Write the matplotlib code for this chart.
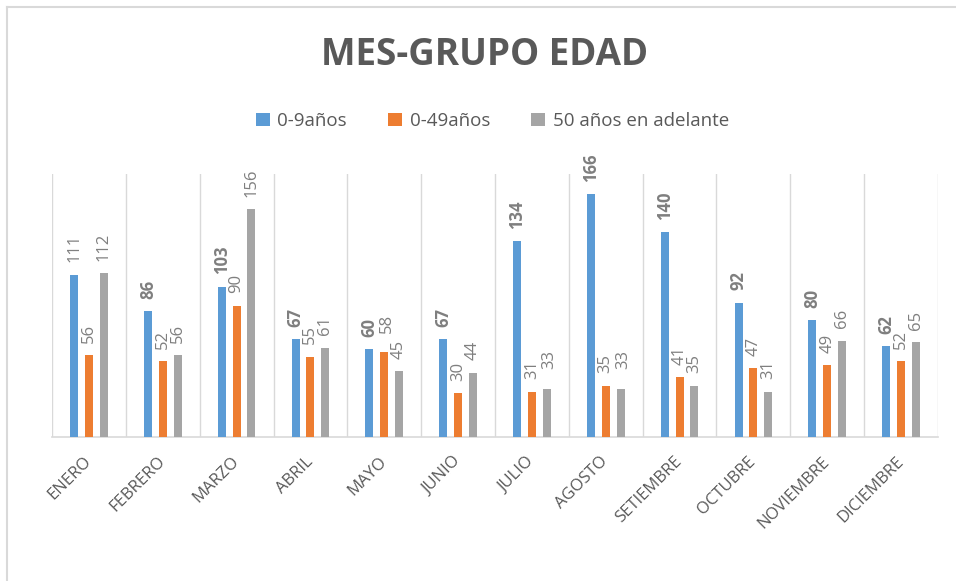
import numpy as np
import matplotlib.pyplot as plt
from matplotlib.lines import Line2D

plt.rcParams['font.family'] = ['Open Sans', 'DejaVu Sans']

meses = ['ENERO', 'FEBRERO', 'MARZO', 'ABRIL', 'MAYO', 'JUNIO', 'JULIO',
         'AGOSTO', 'SETIEMBRE', 'OCTUBRE', 'NOVIEMBRE', 'DICIEMBRE']
ninos = [111, 86, 103, 67, 60, 67, 134, 166, 140, 92, 80, 62]        # 0-9años
adultos = [56, 52, 90, 55, 58, 30, 31, 35, 41, 47, 49, 52]           # 0-49años
mayores = [112, 56, 156, 61, 45, 44, 33, 33, 35, 31, 66, 65]         # 50 años en adelante

series = [
    ('0-9años', ninos, '#5b9bd5', 'bold'),
    ('0-49años', adultos, '#ed7d31', 'normal'),
    ('50 años en adelante', mayores, '#a5a5a5', 'normal'),
]

fig = plt.figure(figsize=(9.56, 5.81), dpi=100)
ax = fig.add_axes([52 / 956, 144 / 581, 886 / 956, 263 / 581])

x = np.arange(len(meses))
ancho = 0.108
paso = 0.2

prev = None
for k, (nombre, vals, color, peso) in enumerate(series):
    pos = x + (k - 1) * paso
    ax.bar(pos, vals, width=ancho, color=color, label=nombre, zorder=3)
    for i, (xi, v) in enumerate(zip(pos, vals)):
        # in the original the first blue label (enero) is not bold
        w = 'normal' if (k == 0 and i == 0) else peso
        dx, dy = 0, 9
        # nudge a label when its neighbour has nearly the same height
        if prev is not None and abs(prev[i] - v) <= 3:
            dx, dy = 2, 14
        ax.annotate(str(v), (xi, v), xytext=(dx, dy), textcoords='offset points',
                    rotation=90, ha='center', va='bottom', fontsize=12,
                    color='#7f7f7f', fontweight=w)
    prev = vals

# vertical separators between months
for b in np.arange(-0.5, len(meses), 1.0):
    ax.axvline(b, color='#d9d9d9', lw=1, zorder=1)

ax.set_xlim(-0.5, len(meses) - 0.5)
ax.set_ylim(0, 180)
ax.set_yticks([])
for s in ['top', 'right', 'left']:
    ax.spines[s].set_visible(False)
ax.spines['bottom'].set_color('#d9d9d9')
ax.spines['bottom'].set_linewidth(1.2)

ax.set_xticks(x)
ax.set_xticklabels(meses, rotation=45, ha='right', va='center',
                   rotation_mode='anchor', fontsize=12, color='#595959')
ax.tick_params(axis='x', length=0, pad=16)

fig.text(0.507, 0.905, 'MES-GRUPO EDAD', ha='center', va='center',
         fontsize=26.5, fontweight='bold', color='#595959')

ax.legend(loc='center', bbox_to_anchor=(0.497, (581 - 121 - 144) / 263),
          ncol=3, frameon=False, fontsize=13.5, handlelength=0.75,
          handleheight=0.75, handletextpad=0.4, columnspacing=2.2,
          labelcolor='#595959')

# chart border (only top and left visible in the crop)
fig.add_artist(Line2D([7 / 956, 7 / 956], [0, 1 - 7 / 581],
                      color='#d9d9d9', lw=1.5, transform=fig.transFigure))
fig.add_artist(Line2D([7 / 956, 1], [1 - 7 / 581, 1 - 7 / 581],
                      color='#d9d9d9', lw=1.5, transform=fig.transFigure))

fig.savefig('out.png', dpi=100)
